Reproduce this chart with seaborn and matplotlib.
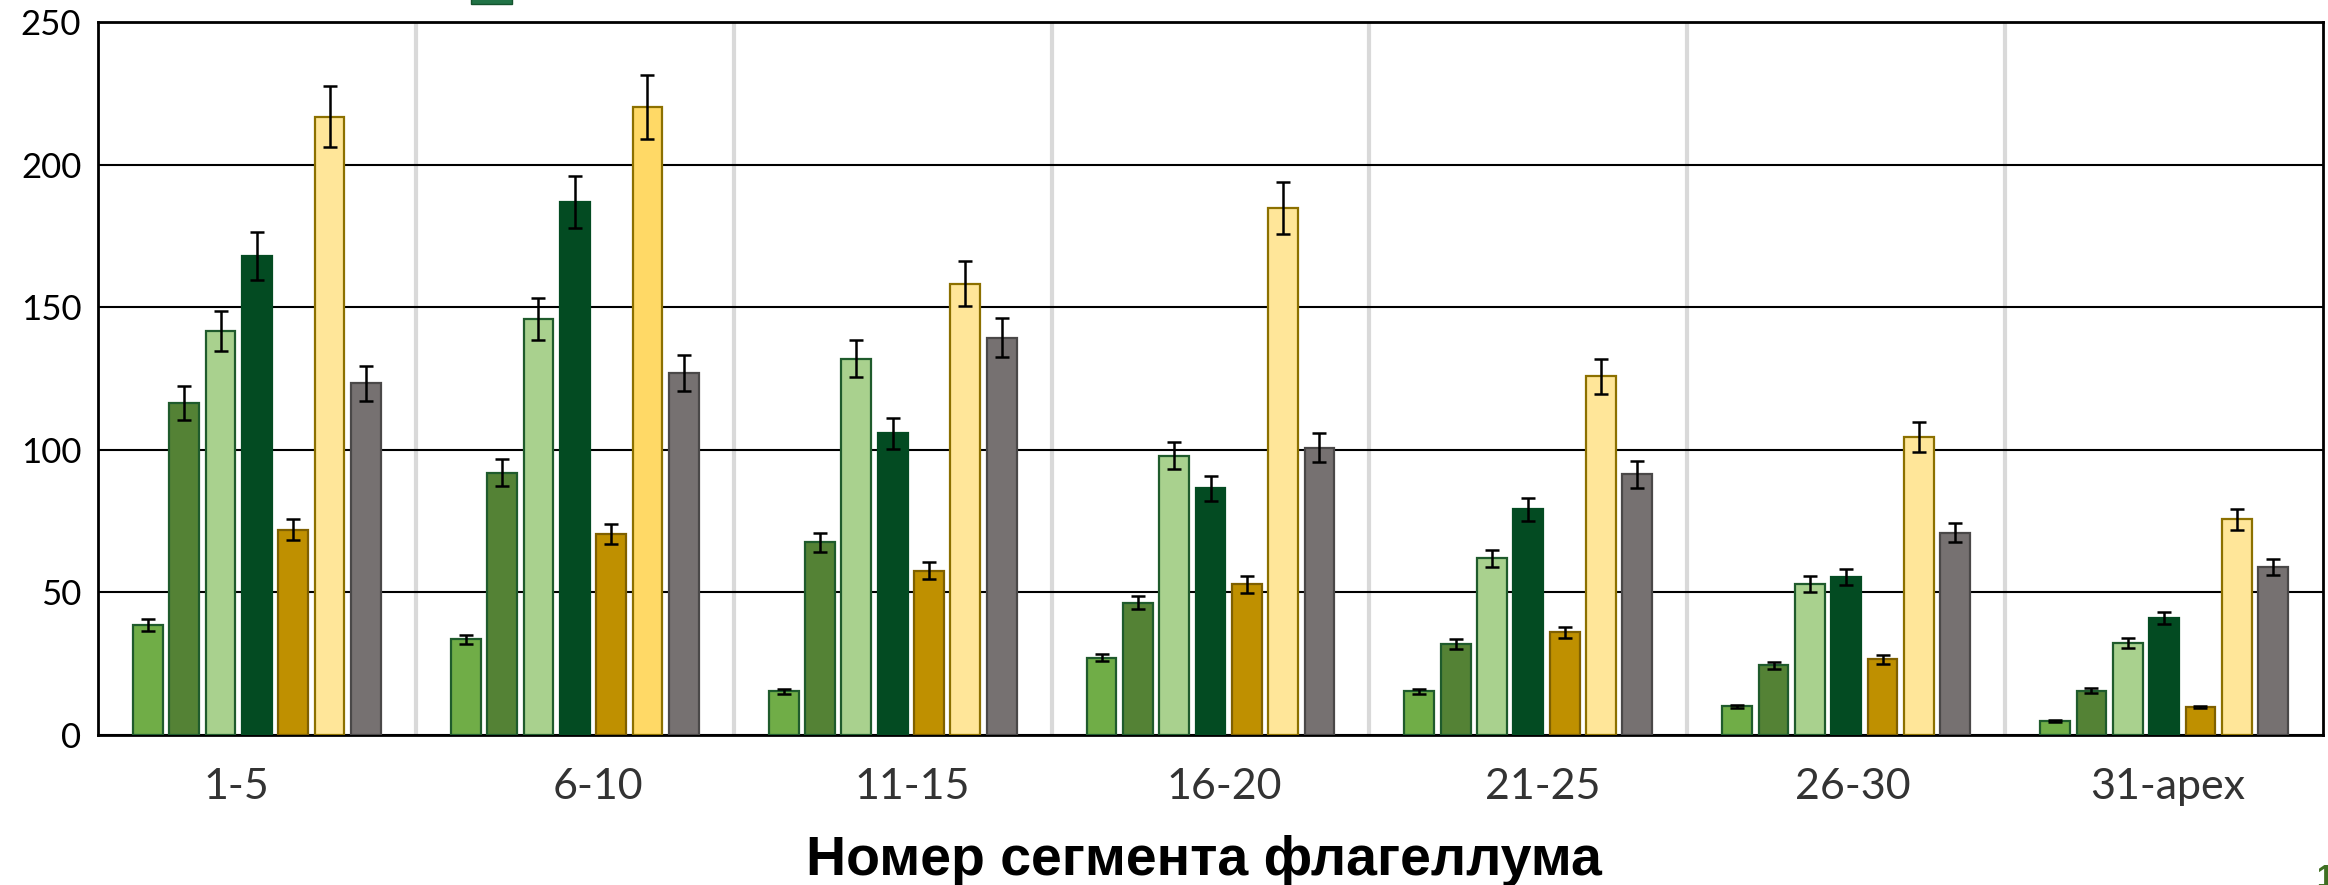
import numpy as np
import pandas as pd
import matplotlib
matplotlib.use("Agg")
import matplotlib.pyplot as plt
from matplotlib.patches import Rectangle
from matplotlib.transforms import ScaledTranslation
import seaborn as sns

# Flagellomere groups along the x axis
categories = ["1-5", "6-10", "11-15", "16-20", "21-25", "26-30", "31-apex"]

# Mean values per group for each of the seven series
s1 = [38.6, 33.5, 15.4, 27.1, 15.4, 10.0, 4.9]
s2 = [116.4, 92.0, 67.5, 46.4, 31.9, 24.5, 15.6]
s3 = [141.8, 145.9, 132.0, 98.0, 61.9, 52.9, 32.2]
s4 = [167.9, 186.8, 105.8, 86.5, 79.2, 55.4, 41.0]
s5 = [72.0, 70.6, 57.6, 52.8, 36.0, 26.5, 9.8]
s6 = [216.7, 220.3, 158.3, 184.8, 125.8, 104.6, 75.6]
s7 = [123.3, 127.0, 139.3, 100.8, 91.4, 71.0, 58.9]

# Error (± half-range) for each series
e1 = [2.0, 1.6, 0.9, 1.3, 0.9, 0.6, 0.3]
e2 = [5.9, 4.7, 3.4, 2.3, 1.75, 1.2, 0.8]
e3 = [7.0, 7.3, 6.5, 4.9, 3.0, 2.7, 1.65]
e4 = [8.4, 9.2, 5.4, 4.4, 4.0, 2.75, 2.0]
e5 = [3.8, 3.5, 2.9, 2.9, 1.9, 1.45, 0.45]
e6 = [10.7, 11.2, 7.8, 9.1, 6.2, 5.2, 3.8]
e7 = [6.2, 6.3, 6.9, 5.1, 4.7, 3.5, 2.9]

series_names = ["s1", "s2", "s3", "s4", "s5", "s6", "s7"]
series_vals = [s1, s2, s3, s4, s5, s6, s7]
series_errs = [e1, e2, e3, e4, e5, e6, e7]

fill_colors = ["#70AD47", "#548235", "#A9D18E", "#034B22", "#BF9000", "#FFE699", "#767171"]
edge_colors = ["#1F5B2C", "#1F5B2C", "#1F5B2C", "#034B22", "#7F6000", "#8C7000", "#4A4848"]
# the sixth series uses a deeper yellow in the second group
s6_fill = ["#FFE699", "#FFD966", "#FFE699", "#FFE699", "#FFE699", "#FFE699", "#FFE699"]

# horizontal nudges (pixels) of the group labels
label_shift_px = [-21, 23, 20, 14, 14, 7, 4]

rows = []
for name, vals in zip(series_names, series_vals):
    for cat, v in zip(categories, vals):
        rows.append({"group": cat, "series": name, "value": v})
df = pd.DataFrame(rows)

sns.set_theme(style="white")
plt.rcParams["font.family"] = ["Lato", "DejaVu Sans"]

fig = plt.figure(figsize=(23.28, 8.85), dpi=100)
ax = fig.add_axes([98 / 2328, 1 - 735 / 885, (2323 - 98) / 2328, (735 - 22) / 885])

sns.barplot(data=df, x="group", y="value", hue="series", order=categories,
            hue_order=series_names, palette=fill_colors, errorbar=None,
            width=0.8, gap=0.18, saturation=1, legend=False, ax=ax, zorder=3)

# per-series edges, error bars and colour overrides
bar_containers = list(ax.containers)
for k, container in enumerate(bar_containers):
    xs, ys = [], []
    for j, bar in enumerate(container.patches):
        bar.set_edgecolor(edge_colors[k])
        bar.set_linewidth(1.6)
        if k == 5:
            bar.set_facecolor(s6_fill[j])
        xs.append(bar.get_x() + bar.get_width() / 2)
        ys.append(bar.get_height())
    ax.errorbar(xs, ys, yerr=series_errs[k], fmt="none", ecolor="black",
                elinewidth=1.8, capsize=5, capthick=1.8, zorder=4)

ax.set_xlim(-0.5, len(categories) - 0.5)
ax.set_ylim(0, 250)
ax.set_yticks(np.arange(0, 251, 50))
ax.yaxis.grid(True, color="black", linewidth=1.5, zorder=1)
ax.set_axisbelow(True)

# light separators between groups
ax.set_xticks(np.arange(0.5, len(categories) - 1, 1.0), minor=True)
ax.xaxis.grid(True, which="minor", color="#D9D9D9", linewidth=3.0)
ax.xaxis.grid(False, which="major")

for side in ["left", "right", "top", "bottom"]:
    ax.spines[side].set_visible(True)
    ax.spines[side].set_color("black")
    ax.spines[side].set_linewidth(2.0)

ax.tick_params(axis="y", which="both", length=0, pad=12, labelsize=25, labelcolor="black")
ax.tick_params(axis="x", which="both", length=0, pad=24, labelsize=31, labelcolor="#333333")
ax.set_xlabel("")
ax.set_ylabel("")

for lbl, dx in zip(ax.get_xticklabels(), label_shift_px):
    lbl.set_transform(lbl.get_transform() + ScaledTranslation(dx / 100, 0, fig.dpi_scale_trans))

fig.text(1204 / 2328, (885 - 875) / 885, "Номер сегмента флагеллума", ha="center", va="baseline",
         fontsize=40, fontweight="bold", family=["Liberation Sans", "DejaVu Sans"], color="black")

# clipped legend key at the top edge and slide number in the corner
fig.patches.append(Rectangle((471 / 2328, 1 - 4 / 885), 41 / 2328, 6 / 885,
                             transform=fig.transFigure, facecolor="#217346",
                             edgecolor="#14532D", linewidth=1.0))
fig.text(2316 / 2328, 1 - 864 / 885, "1", ha="left", va="top", fontsize=22,
         fontweight="bold", color="#3F6F22", family=["Liberation Sans", "DejaVu Sans"])

fig.savefig("out.png", dpi=100)
